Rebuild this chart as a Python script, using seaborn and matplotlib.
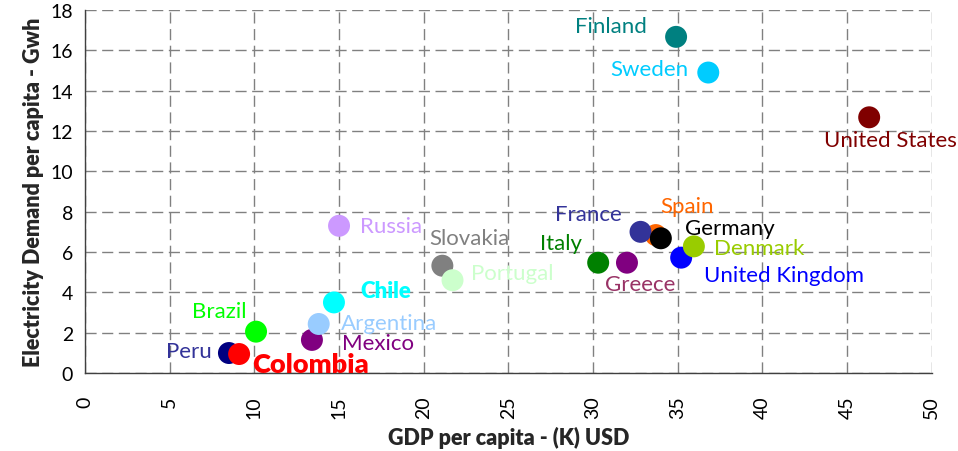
import matplotlib
matplotlib.use('Agg')
import seaborn as sns
import pandas as pd
import matplotlib.pyplot as plt

# drawing order matters: later points sit on top
COUNTRIES = ['Peru', 'Colombia', 'Brazil', 'Mexico', 'Argentina', 'Chile',
             'Russia', 'Slovakia', 'Portugal', 'Italy', 'Greece', 'Spain',
             'France', 'Germany', 'United Kingdom', 'Denmark', 'Finland',
             'Sweden', 'United States']
GDP = [8.5, 9.1, 10.1, 13.4, 13.8, 14.7,
       15.0, 21.1, 21.7, 30.3, 32.0, 33.7,
       32.8, 34.0, 35.2, 35.95, 34.9,
       36.8, 46.3]
DEMAND = [0.99, 0.94, 2.05, 1.64, 2.43, 3.5,
          7.3, 5.32, 4.6, 5.47, 5.47, 6.84,
          7.0, 6.68, 5.72, 6.28, 16.67,
          14.9, 12.68]

MARKER_COLORS = {
    'Peru': '#000080', 'Colombia': '#FF0000', 'Brazil': '#00FF00',
    'Mexico': '#800080', 'Argentina': '#99CCFF', 'Chile': '#00FFFF',
    'Russia': '#CC99FF', 'Slovakia': '#808080', 'Portugal': '#CCFFCC',
    'Italy': '#008000', 'Greece': '#800080', 'Spain': '#FF6600',
    'France': '#333399', 'Germany': '#000000', 'United Kingdom': '#0000FF',
    'Denmark': '#99CC00', 'Finland': '#008080', 'Sweden': '#00CCFF',
    'United States': '#800000',
}
LABEL_COLORS = dict(MARKER_COLORS, Peru='#333399', Greece='#993366')

# label placement: (dx px, dy px, ha)
LABEL_POS = {
    'Finland': (-29, 11, 'right'), 'Sweden': (-20, 4, 'right'),
    'United States': (21, -23, 'center'), 'Russia': (21, 0, 'left'),
    'Slovakia': (27, 28, 'center'), 'Portugal': (18, 7, 'left'),
    'Chile': (26, 12, 'left'), 'Argentina': (22, 1, 'left'),
    'Mexico': (30, -3, 'left'), 'Brazil': (-10, 21, 'right'),
    'Peru': (-17, 2, 'right'), 'Colombia': (13, -10, 'left'),
    'Italy': (-16, 20, 'right'), 'Greece': (13, -21, 'center'),
    'United Kingdom': (23, -17, 'left'), 'Denmark': (20, -2, 'left'),
    'Germany': (24, 10, 'left'), 'Spain': (31, 29, 'center'),
    'France': (-19, 18, 'right'),
}

df = pd.DataFrame({'country': COUNTRIES, 'gdp': GDP, 'demand': DEMAND})

sns.set_style('white')
plt.rcParams['font.family'] = ['Lato', 'DejaVu Sans']

fig = plt.figure(figsize=(9.58, 4.52), dpi=100)
ax = fig.add_axes([0.0887, 0.1726, 0.884, 0.803])

sns.scatterplot(data=df, x='gdp', y='demand', hue='country',
                palette=MARKER_COLORS, s=250, linewidth=0, legend=False,
                ax=ax, zorder=3)

for name, x, y in zip(COUNTRIES, GDP, DEMAND):
    dx, dy, ha = LABEL_POS[name]
    bold = name in ('Chile', 'Colombia')
    ax.annotate(name, (x, y), xytext=(dx, dy), textcoords='offset pixels',
                ha=ha, va='center', color=LABEL_COLORS[name],
                fontsize=19.5 if name == 'Colombia' else 16,
                fontweight='heavy' if bold else 'normal', zorder=4)

ax.set_xlim(0, 50)
ax.set_ylim(0, 18)
ax.set_xticks(range(0, 51, 5))
ax.set_yticks(range(0, 19, 2))
ax.grid(True, color='#808080', linestyle=(0, (8, 4)), linewidth=1)
ax.set_axisbelow(True)
for side in ('top', 'right'):
    ax.spines[side].set_visible(False)
for side in ('left', 'bottom'):
    ax.spines[side].set_color('#404040')
    ax.spines[side].set_linewidth(1)
ax.tick_params(axis='both', direction='out', length=5, color='#404040',
               labelsize=14, labelcolor='black')
ax.tick_params(axis='x', labelrotation=90, pad=11)
ax.set_xlabel('GDP per capita - (K) USD', fontsize=15.5, fontweight='heavy', labelpad=6)
ax.set_ylabel('Electricity Demand per capita - Gwh', fontsize=15.5, fontweight='heavy', labelpad=5)

fig.savefig('out.png', dpi=100)
